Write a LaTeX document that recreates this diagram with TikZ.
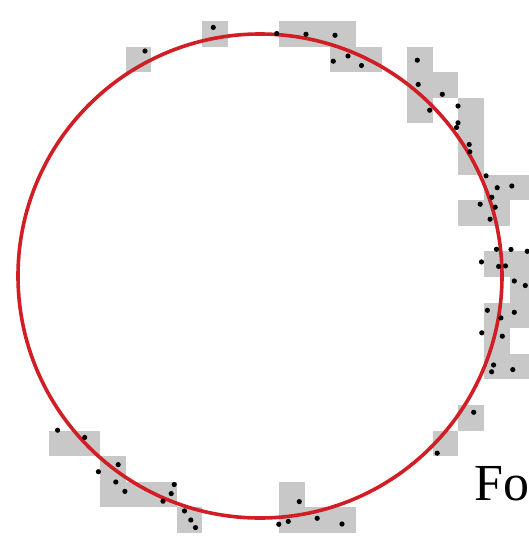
\documentclass[tikz,border=0pt]{standalone}
\usepackage{fontspec}
\setmainfont{Liberation Serif}
\usepackage{tikz}
\usetikzlibrary{arrows.meta}

\definecolor{ringred}{RGB}{208,30,36}
\definecolor{cellgray}{RGB}{200,200,200}

\begin{document}
\begin{tikzpicture}[x=1pt, y=-1pt,
    cell/.style={fill=cellgray},
    ring/.style={draw=ringred, line width=3.6pt},
    pt/.style={fill=black}]
    % 画布范围
    \clip (0,0) rectangle (529,541);

    % 网格单元 (i 列, j 行)
    \foreach \i/\j in {7/0, 4/1, 10/0, 11/0, 12/0, 12/1, 13/1,
        15/1, 15/2, 15/3, 16/2, 17/3, 17/4, 17/5,
        18/6, 19/6, 17/7, 18/7, 18/9, 19/9, 19/10, 19/11,
        18/11, 18/12, 18/13, 19/13, 17/15, 16/16,
        1/16, 2/16, 3/17, 3/18, 4/18, 5/18, 6/19,
        10/18, 10/19, 11/19, 12/19}
        \fill[cell] ({23.1+25.6*\i},{21+25.6*\j}) rectangle ++(25.6,25.6);

    % 拟合圆
    \coordinate (C) at (260,276);
    \draw[ring] (C) circle[radius=242pt];

    % 边缘点
    \foreach \x/\y in {213.3/27.4, 145/51,
        276.7/33.5, 306/34.3, 335/35.3, 348/56, 333.3/61.2, 361.5/65.5,
        417.3/60.2, 418.2/84.4, 442.3/94.3, 429.7/110.2, 458/106,
        458/122.8, 456.5/127.5, 469.2/144.5, 469.8/151.8, 486/175.8,
        497.2/187.7, 511.8/186, 491.8/197.3, 480.2/204.2, 495.2/207.2, 490.1/219.2,
        496.5/249.3, 511/249.4, 527.2/251.3, 481.5/261.9, 498.6/266.5,
        505.5/265.9, 514.3/281, 525.3/285.5,
        487.4/310.3, 500.9/317.9, 514.3/312.3, 481.8/332.8, 502.3/336.2,
        493.6/365, 491.6/371.8, 512.8/369.6,
        473.7/412.3, 437.2/453.2,
        57.6/430.2, 84.7/437.4, 118.2/464.6, 98.4/471.7, 115.8/482, 124.9/491.4,
        174.2/484.5, 171.2/493.6, 163/501.2, 184.5/510.9, 190.8/520, 195.5/527.6,
        299.3/501.6, 278.8/524.3, 288.3/521.4, 317.2/518.3, 342/524}
        \fill[pt] (\x,\y) circle[radius=2.6pt];

    % 文字
    \node[anchor=base west, inner sep=0pt, font=\fontsize{52}{52}\selectfont] (Fo) at (474.5,500.7) {Fo};
\end{tikzpicture}
\end{document}
